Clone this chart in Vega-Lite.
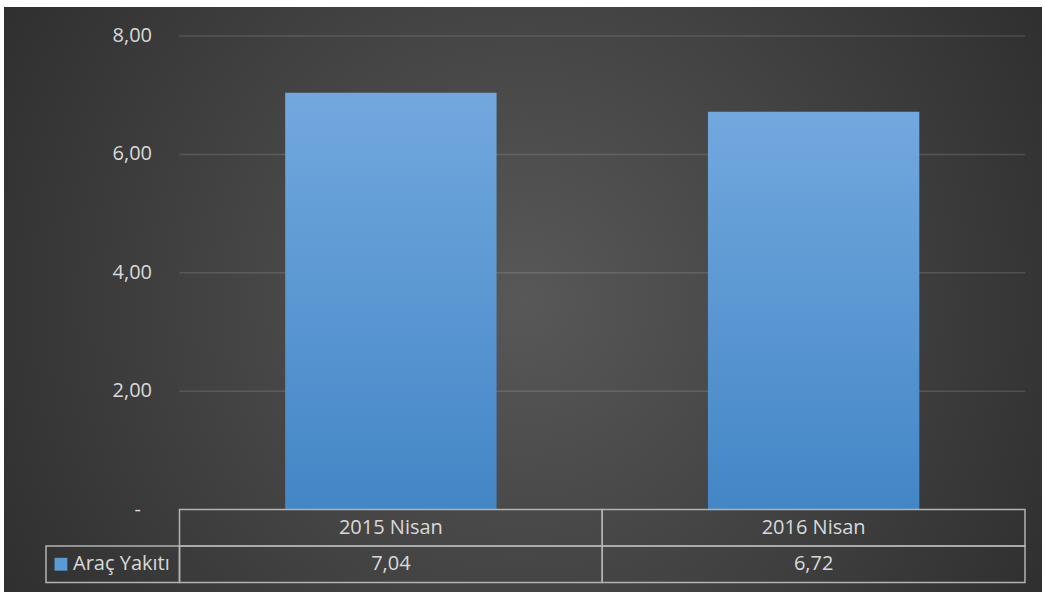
{
  "$schema": "https://vega.github.io/schema/vega-lite/v6.json",
  "width": 1038,
  "height": 585,
  "autosize": "none",
  "padding": {"left": 4, "top": 7, "right": 3, "bottom": 0},
  "background": "white",
  "config": {
    "font": "Open Sans",
    "view": {
      "stroke": null,
      "fill": {"gradient": "radial", "x1": 0.5, "y1": 0.5, "r1": 0, "x2": 0.5, "y2": 0.5, "r2": 0.75,
        "stops": [{"offset": 0, "color": "#585858"}, {"offset": 1, "color": "#232323"}]}
    },
    "locale": {"number": {"decimal": ",", "thousands": ".", "grouping": [3], "currency": ["", " TL"]}}
  },
  "data": {"values": [
    {"period": "2015 Nisan", "value": 7.04},
    {"period": "2016 Nisan", "value": 6.72}
  ]},
  "resolve": {"scale": {"x": "independent", "y": "independent"}},
  "layer": [
    {
      "resolve": {"scale": {"x": "independent"}},
      "layer": [
        {
          "data": {"values": [{"v": 2}, {"v": 4}, {"v": 6}, {"v": 8}]},
          "mark": {"type": "rule", "stroke": "#ffffff", "strokeOpacity": 0.13, "strokeWidth": 1.5},
          "encoding": {
            "x": {"datum": 0, "type": "quantitative", "scale": {"domain": [0, 1], "range": [175.5, 1021]}, "axis": null},
            "x2": {"datum": 1},
            "y": {"field": "v", "type": "quantitative", "scale": {"domain": [0, 8], "range": [502.5, 29]}, "axis": null}
          }
        },
        {
          "data": {"values": [
            {"v": 2, "label": "2,00"},
            {"v": 4, "label": "4,00"},
            {"v": 6, "label": "6,00"},
            {"v": 8, "label": "8,00"}
          ]},
          "mark": {"type": "text", "align": "right", "baseline": "middle", "dx": -27.5, "fontSize": 20, "color": "#d9d9d9"},
          "encoding": {
            "x": {"datum": 0, "type": "quantitative", "scale": {"domain": [0, 1], "range": [175.5, 1021]}, "axis": null},
            "y": {"field": "v", "type": "quantitative", "axis": null},
            "text": {"field": "label", "type": "nominal"}
          }
        },
        {
          "data": {"values": [{"v": 0, "label": "-"}]},
          "mark": {"type": "text", "align": "right", "baseline": "middle", "dx": -38.5, "fontSize": 20, "color": "#d9d9d9"},
          "encoding": {
            "x": {"datum": 0, "type": "quantitative", "scale": {"domain": [0, 1], "range": [175.5, 1021]}, "axis": null},
            "y": {"field": "v", "type": "quantitative", "axis": null},
            "text": {"field": "label", "type": "nominal"}
          }
        },
        {
          "mark": {"type": "bar", "color": {"gradient": "linear", "x1": 0, "y1": 0, "x2": 0, "y2": 1,
            "stops": [{"offset": 0, "color": "#72a8de"}, {"offset": 1, "color": "#4386c6"}]}},
          "encoding": {
            "x": {"field": "period", "type": "nominal", "sort": null,
              "scale": {"range": [175.5, 1021], "paddingInner": 0.5, "paddingOuter": 0.25}, "axis": null},
            "y": {"field": "value", "type": "quantitative", "axis": null}
          }
        }
      ]
    },
    {
      "layer": [
        {
          "mark": {"type": "rect", "fillOpacity": 0, "stroke": "#b3b3b3", "strokeWidth": 1.5},
          "encoding": {
            "x": {"field": "period", "type": "nominal", "sort": null, "scale": {"range": [175.5, 1021], "padding": 0}, "axis": null},
            "y": {"datum": "header", "type": "nominal", "scale": {"domain": ["header", "value"], "range": [502.5, 575.5], "padding": 0}, "axis": null}
          }
        },
        {
          "mark": {"type": "rect", "fillOpacity": 0, "stroke": "#b3b3b3", "strokeWidth": 1.5},
          "encoding": {
            "x": {"field": "period", "type": "nominal"},
            "y": {"datum": "value", "type": "nominal"}
          }
        },
        {
          "mark": {"type": "text", "fontSize": 20, "color": "#d9d9d9"},
          "encoding": {
            "x": {"field": "period", "type": "nominal"},
            "y": {"datum": "header", "type": "nominal"},
            "text": {"field": "period"}
          }
        },
        {
          "mark": {"type": "text", "fontSize": 20, "color": "#d9d9d9"},
          "encoding": {
            "x": {"field": "period", "type": "nominal"},
            "y": {"datum": "value", "type": "nominal"},
            "text": {"field": "value", "type": "quantitative", "format": ".2f"}
          }
        }
      ]
    },
    {
      "data": {"values": [{"series": "Araç Yakıtı"}]},
      "layer": [
        {
          "mark": {"type": "rect", "fillOpacity": 0, "stroke": "#b3b3b3", "strokeWidth": 1.5},
          "encoding": {
            "x": {"field": "series", "type": "nominal", "scale": {"range": [42, 175.5], "padding": 0}, "axis": null},
            "y": {"datum": "value", "type": "nominal", "scale": {"domain": ["header", "value"], "range": [502.5, 575.5], "padding": 0}, "axis": null}
          }
        },
        {
          "mark": {"type": "point", "shape": "square", "filled": true, "size": 165, "color": "#5b9bd5", "opacity": 1},
          "encoding": {
            "x": {"field": "series", "type": "nominal", "bandPosition": 0.112},
            "y": {"datum": "value", "type": "nominal"}
          }
        },
        {
          "mark": {"type": "text", "fontSize": 20, "color": "#d9d9d9", "align": "left", "dx": 27},
          "encoding": {
            "x": {"field": "series", "type": "nominal", "bandPosition": 0},
            "y": {"datum": "value", "type": "nominal"},
            "text": {"field": "series"}
          }
        }
      ]
    }
  ]
}
